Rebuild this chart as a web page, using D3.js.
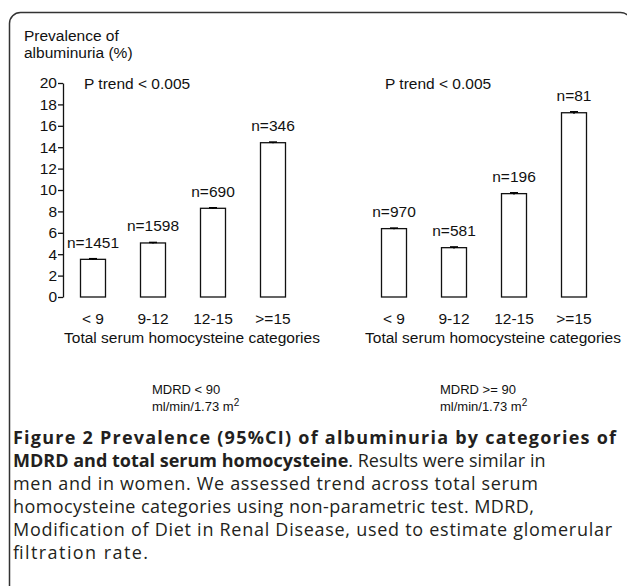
<!DOCTYPE html>
<html>
<head>
<meta charset="utf-8">
<script src="https://cdn.jsdelivr.net/npm/d3@7"></script>
<style>
  html, body { margin: 0; padding: 0; background: #fff; }
  svg { display: block; }
  .chart text { font-family: "Liberation Sans", Arial, sans-serif; fill: #111; }
  .caption text { font-family: "Open Sans", "Noto Sans", sans-serif; fill: #231f20; }
</style>
</head>
<body>
<main></main>
<script>
const width = 627;
const height = 586;

const categories = ['< 9', '9-12', '12-15', '>=15'];
const yTicks = [0, 2, 4, 6, 8, 10, 12, 14, 16, 18, 20];

// MDRD < 90
const leftValues = [3.52, 5.05, 8.29, 14.42];
const leftCI = [0.06, 0.05, 0.05, 0.06];
const leftN = ['n=1451', 'n=1598', 'n=690', 'n=346'];

// MDRD >= 90
const rightValues = [6.39, 4.61, 9.66, 17.22];
const rightCI = [0.05, 0.07, 0.08, 0.09];
const rightN = ['n=970', 'n=581', 'n=196', 'n=81'];

const captionLines = [
  [{t: 'Figure 2 Prevalence (95%CI) of albuminuria by categories of', b: true}],
  [{t: 'MDRD and total serum homocysteine', b: true}, {t: '. Results were similar in', b: false}],
  [{t: 'men and in women. We assessed trend across total serum', b: false}],
  [{t: 'homocysteine categories using non-parametric test. MDRD,', b: false}],
  [{t: 'Modification of Diet in Renal Disease, used to estimate glomerular', b: false}],
  [{t: 'filtration rate.', b: false}]
];
const captionWidths = [603, 503, 525, 521, 599, 135];

const svg = d3.select('main')
              .append('svg')
              .attr('width', width)
              .attr('height', height);

// frame round the figure
svg.append('rect')
   .attr('x', 9.5)
   .attr('y', 12.5)
   .attr('width', 622)
   .attr('height', 640)
   .attr('rx', 11)
   .attr('fill', 'none')
   .attr('stroke', '#333')
   .attr('stroke-width', 1.5);

const chart = svg.append('g').attr('class', 'chart');

const yScale = d3.scaleLinear().domain([0, 20]).range([297, 83]);
const fs = '15.5px';

chart.append('text')
     .attr('x', 24).attr('y', 40.5)
     .style('font-size', fs)
     .text('Prevalence of');
chart.append('text')
     .attr('x', 24).attr('y', 58)
     .style('font-size', fs)
     .text('albuminuria (%)');

const yAxis = chart.append('g')
     .attr('transform', 'translate(63,0)')
     .call(d3.axisLeft(yScale).tickValues(yTicks).tickSize(5).tickSizeOuter(0).tickFormat(d3.format('d')));
yAxis.select('.domain').attr('stroke', '#111').attr('stroke-width', 1.3);
yAxis.selectAll('.tick line').attr('stroke', '#111').attr('stroke-width', 1.3);
yAxis.selectAll('.tick text')
     .attr('x', -6)
     .style('font-size', fs)
     .style('font-family', '"Liberation Sans", Arial, sans-serif')
     .attr('fill', '#111');

const drawPanel = (values, ci, labels, x0, x1, footA) => {
    const xScale = d3.scalePoint().domain(categories).range([x0, x1]).padding(0.5);
    const bw = 25;
    const g = chart.append('g');

    g.selectAll('rect.bar')
     .data(values)
     .enter()
     .append('rect')
     .attr('class', 'bar')
     .attr('x', (d, i) => xScale(categories[i]) - bw / 2)
     .attr('y', (d) => yScale(d))
     .attr('width', bw)
     .attr('height', (d) => yScale(0) - yScale(d))
     .attr('fill', '#fff')
     .attr('stroke', '#111')
     .attr('stroke-width', 1.3);

    // 95% CI whiskers
    values.forEach((v, i) => {
        const cx = xScale(categories[i]);
        g.append('line')
         .attr('x1', cx).attr('x2', cx)
         .attr('y1', yScale(v + ci[i])).attr('y2', yScale(v - ci[i]))
         .attr('stroke', '#000').attr('stroke-width', 1.5);
        g.append('line')
         .attr('x1', cx - 4).attr('x2', cx + 4)
         .attr('y1', yScale(v + ci[i])).attr('y2', yScale(v + ci[i]))
         .attr('stroke', '#000').attr('stroke-width', 1.5);
    });

    g.selectAll('text.n')
     .data(values)
     .enter()
     .append('text')
     .attr('class', 'n')
     .attr('x', (d, i) => xScale(categories[i]))
     .attr('y', (d, i) => yScale(d + ci[i]) - 11)
     .attr('text-anchor', 'middle')
     .style('font-size', fs)
     .text((d, i) => labels[i]);

    g.selectAll('text.cat')
     .data(categories)
     .enter()
     .append('text')
     .attr('class', 'cat')
     .attr('x', (d) => xScale(d))
     .attr('y', 323.5)
     .attr('text-anchor', 'middle')
     .style('font-size', fs)
     .text((d) => d);

    g.append('text')
     .attr('x', (x0 + x1) / 2 + 9)
     .attr('y', 342.5)
     .attr('text-anchor', 'middle')
     .style('font-size', fs)
     .text('Total serum homocysteine categories');

    g.append('text')
     .attr('x', x0 + 21)
     .attr('y', 88.5)
     .style('font-size', fs)
     .text('P trend < 0.005');

    g.append('text')
     .attr('x', footA)
     .attr('y', 394)
     .style('font-size', '13px')
     .text(x0 < 200 ? 'MDRD < 90' : 'MDRD >= 90');

    const unit = g.append('text')
     .attr('x', footA)
     .attr('y', 411)
     .style('font-size', '13px');
    unit.append('tspan').text('ml/min/1.73 m');
    unit.append('tspan').attr('dy', -5).style('font-size', '10px').text('2');
};

drawPanel(leftValues, leftCI, leftN, 63, 303, 152);
drawPanel(rightValues, rightCI, rightN, 364, 604, 440);

// caption, stretched only where the line is shorter than in the figure
const cap = svg.append('g').attr('class', 'caption');
captionLines.forEach((line, i) => {
    const t = cap.append('text')
                 .attr('x', 13)
                 .attr('y', 444 + i * 23)
                 .style('font-size', '18px');
    line.forEach((part) => {
        t.append('tspan')
         .style('font-weight', part.b ? 'bold' : 'normal')
         .text(part.t);
    });
    const natural = t.node().getComputedTextLength();
    if (natural < captionWidths[i]) {
        t.attr('textLength', captionWidths[i]).attr('lengthAdjust', 'spacing');
    }
});
</script>
</body>
</html>
